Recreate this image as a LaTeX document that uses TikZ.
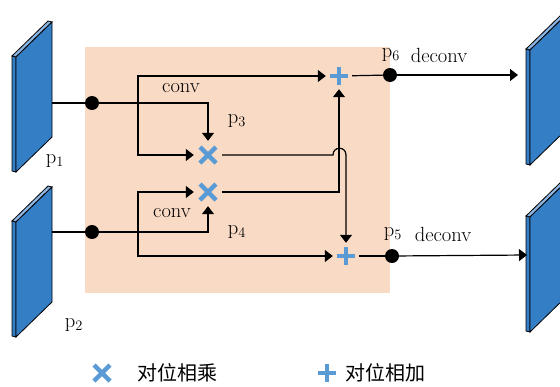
\documentclass[tikz,border=0pt]{standalone}
\usepackage{fontspec}
\newfontfamily\cjk{Noto Sans CJK SC}
\usetikzlibrary{arrows.meta,calc}
\definecolor{bgc}{RGB}{249,218,196}
\definecolor{plateblue}{RGB}{52,126,198}
\definecolor{platelight}{RGB}{140,180,225}
\definecolor{markblue}{RGB}{91,155,213}
\begin{document}
\begin{tikzpicture}[x=1pt,y=-1pt,
  conn/.style={line width=1.2pt},
  arr/.style={conn,-{Triangle[length=8pt,width=12pt]}},
  dot/.style={circle,fill=black,inner sep=0pt,minimum size=14pt},
  xnode/.style={circle,inner sep=0pt,minimum size=28pt},
  pnode/.style={circle,inner sep=0pt,minimum size=26pt},
  xmark/.style={draw=markblue,line width=4.5pt},
  lbl/.style={font=\fontsize{20.5}{24}\selectfont,inner sep=0pt},
  cjklbl/.style={font=\fontsize{20}{24}\selectfont\cjk,inner sep=0pt,anchor=west},
  plate/.pic={
    \draw[fill=plateblue,line width=0.8pt] (0,0)--(0,-115)--(-4,-116)--(-4,-1)--cycle;
    \draw[fill=platelight,line width=0.8pt] (0,-115)--(36,-150)--(32,-151)--(-4,-116)--cycle;
    \draw[fill=plateblue,line width=0.8pt] (0,0)--(0,-115)--(36,-150)--(36,-35)--cycle;
  }]
\useasboundingbox (0,0) rectangle (560,386);
\clip (0,0) rectangle (560,386);
\fill[bgc] (85,47) rectangle (390,293);
% plates
\pic at (16,172) {plate};
\pic at (16,337) {plate};
\pic at (530,165) {plate};
\pic at (530,332) {plate};
% coordinates on plates
\coordinate (P1e) at (52,103);
\coordinate (P2e) at (52,232);
\coordinate (R1e) at (518,75);
\coordinate (R2e) at (527,255);
% nodes
\node[dot] (b1) at (92,103) {};
\node[dot] (b2) at (92,232) {};
\node[xnode] (x1) at (208,155) {};
\node[xnode] (x2) at (208,192) {};
\node[pnode] (pl6) at (339,76) {};
\node[pnode] (pl5) at (346,256) {};
\node[dot] (b6) at (390,75) {};
\node[dot] (b5) at (392,256) {};
\coordinate (j1) at (138,103);
\coordinate (j2) at (138,232);
\coordinate (h1) at (333,155);
\coordinate (h2) at (346,155);
% marks
\draw[xmark] (x1) +(-8,-8) -- +(8,8) +(-8,8) -- +(8,-8);
\draw[xmark] (x2) +(-8,-8) -- +(8,8) +(-8,8) -- +(8,-8);
\draw[xmark] (pl6) +(-9,0) -- +(9,0) +(0,-9) -- +(0,9);
\draw[xmark] (pl5) +(-9,0) -- +(9,0) +(0,-9) -- +(0,9);
% connectors
\draw[conn] (P1e) -- (b1);
\draw[conn] (P2e) -- (b2);
\draw[arr] (b1) -| (x1);
\draw[arr] (j1) |- (pl6);
\draw[arr] (j1) |- (x1);
\draw[arr] (b2) -| (x2);
\draw[arr] (j2) |- (x2);
\draw[arr] (j2) |- (pl5);
\draw[arr] (x2) -| (pl6);
\draw[arr] (x1) -- (h1) .. controls ($(h1)+(0,-9)$) and ($(h2)+(0,-9)$) .. (h2) -- (pl5);
\draw[conn] (pl6) -- (b6);
\draw[conn] (pl5) -- (b5);
\draw[arr] (b6) -- (R1e);
\draw[arr] (b5) -- (R2e);
% labels
\node[lbl] (lconv1) at (181,88) {conv};
\node[lbl] (lp3) at (237,121) {p$_3$};
\node[lbl] (lp1) at (55,161) {p$_1$};
\node[lbl] (lconv2) at (172,213) {conv};
\node[lbl] (lp4) at (237,232) {p$_4$};
\node[lbl] (lp2) at (74,325) {p$_2$};
\node[lbl] (lp6) at (391,55) {p$_6$};
\node[lbl] (ld6) at (439,55) {deconv};
\node[lbl] (lp5) at (393,234) {p$_5$};
\node[lbl] (ld5) at (443,234) {deconv};
% legend
\coordinate (lgx) at (102,373);
\coordinate (lgp) at (327,373);
\draw[xmark] (lgx) +(-8,-8) -- +(8,8) +(-8,8) -- +(8,-8);
\draw[xmark] (lgp) +(-9,0) -- +(9,0) +(0,-9) -- +(0,9);
\node[cjklbl] (t1) at (137,373) {对位相乘};
\node[cjklbl] (t2) at (345,373) {对位相加};
\end{tikzpicture}
\end{document}
